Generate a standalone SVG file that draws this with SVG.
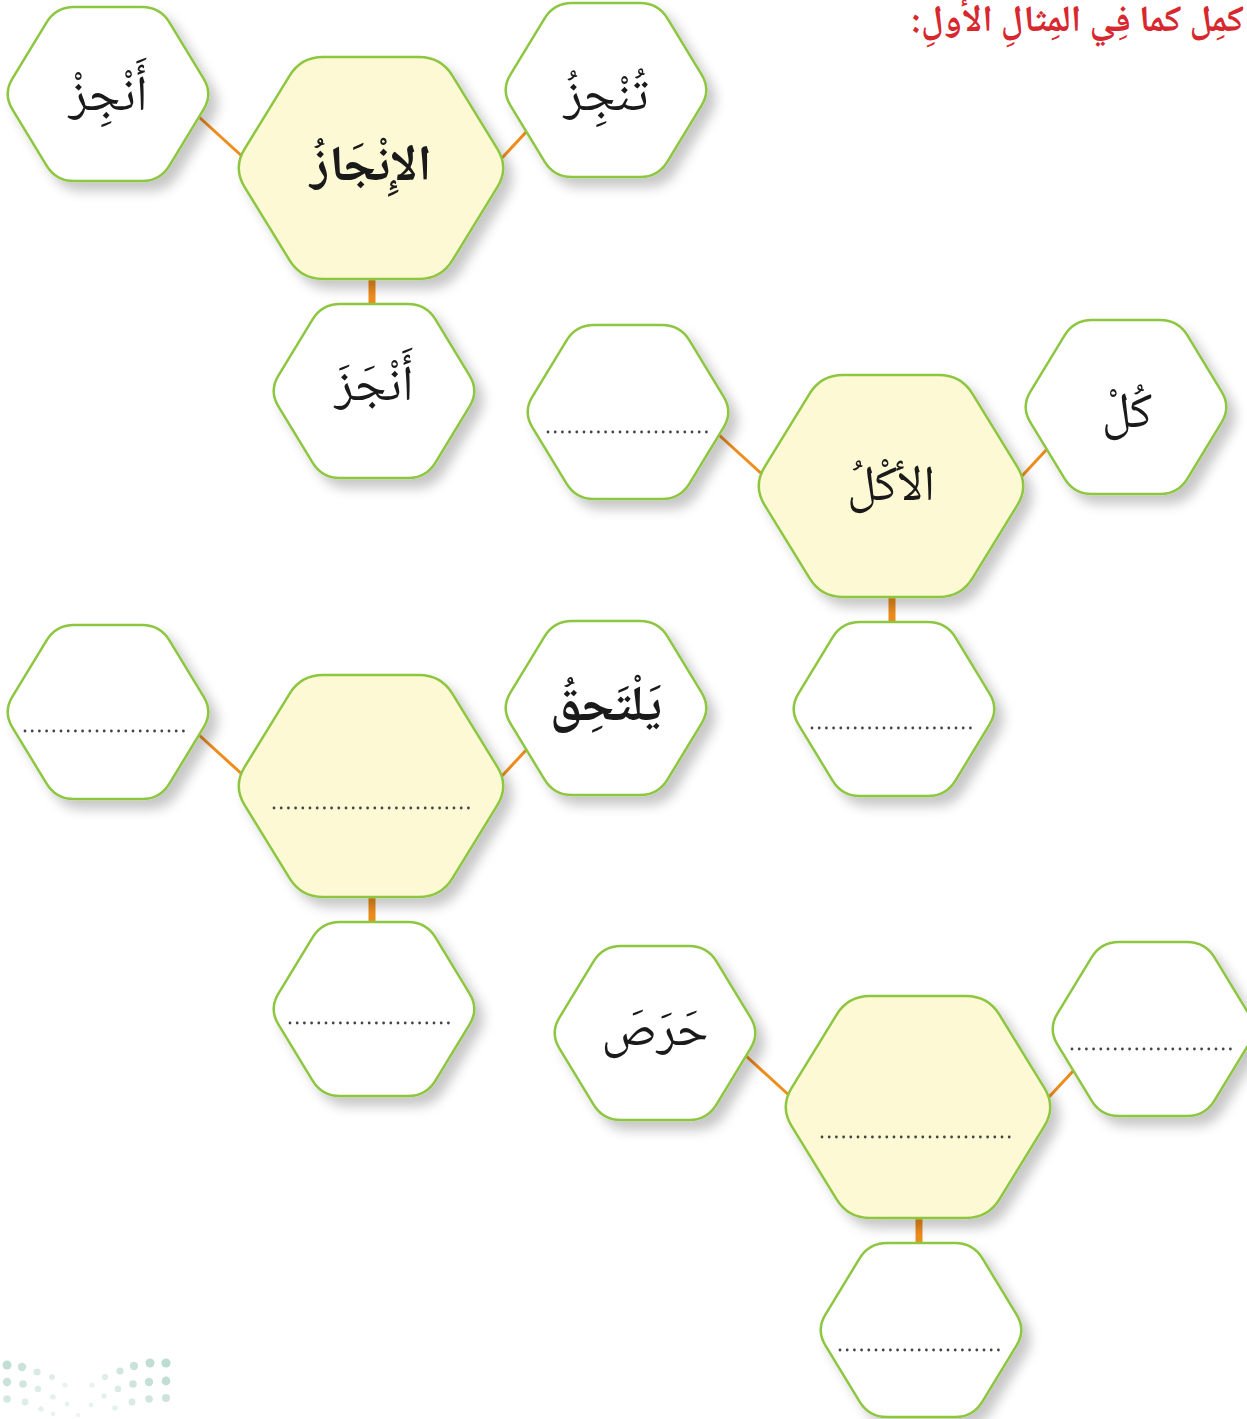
<svg xmlns="http://www.w3.org/2000/svg" xmlns:xlink="http://www.w3.org/1999/xlink" width="1247" height="1419" viewBox="0 0 1247 1419">
<style>
.hexS{fill:#ffffff;stroke:#8dc63f;stroke-width:2.5}
.hexL{fill:#fdf9d5;stroke:#8dc63f;stroke-width:2.5}
.conn{stroke:#ee8d1c;stroke-width:3;fill:none}
.connV{stroke:#ee8d1c;stroke-width:7;fill:none}
.dots{stroke:#444444;stroke-width:2.8;stroke-linecap:round;stroke-dasharray:0 7.2;fill:none}
.ar{font-family:"Noto Naskh Arabic","Noto Sans Arabic","DejaVu Sans",sans-serif;font-size:50px;fill:#1a1a1a;text-anchor:middle}
.b{font-weight:bold}
.title{font-family:"Noto Naskh Arabic","Noto Sans Arabic","DejaVu Sans",sans-serif;font-size:37px;font-weight:bold;fill:#d7282f;text-anchor:start}
.logo circle{fill:#9fcbbd}
</style>
<defs>
<filter id="sh" x="-20%" y="-20%" width="150%" height="150%">
<feDropShadow dx="8" dy="9" stdDeviation="6" flood-color="#000000" flood-opacity="0.22"/>
</filter>
<path id="hs" d="M -95.6,15.4 Q -105,0 -95.6,-15.4 L -61.4,-71.6 Q -52,-87 -34,-87 L 34,-87 Q 52,-87 61.4,-71.6 L 95.6,-15.4 Q 105,0 95.6,15.4 L 61.4,71.6 Q 52,87 34,87 L -34,87 Q -52,87 -61.4,71.6 Z"/>
<path id="hl" d="M -126.5,18.8 Q -138,0 -126.5,-18.8 L -81.5,-92.2 Q -70,-111 -48,-111 L 48,-111 Q 70,-111 81.5,-92.2 L 126.5,-18.8 Q 138,0 126.5,18.8 L 81.5,92.2 Q 70,111 48,111 L -48,111 Q -70,111 -81.5,92.2 Z"/>
</defs>
<rect width="1247" height="1419" fill="#ffffff"/>
<text class="title" x="1244" y="31" direction="rtl">كمِل كما فِي المِثالِ الأولِ:</text>

<g id="connectors">
<line class="conn" x1="199" y1="117" x2="244" y2="158"/>
<line class="conn" x1="502" y1="158" x2="528" y2="130"/>
<line class="connV" x1="372" y1="276" x2="372" y2="306"/>
<line class="conn" x1="719" y1="435" x2="764" y2="476"/>
<line class="conn" x1="1022" y1="476" x2="1048" y2="448"/>
<line class="connV" x1="892" y1="594" x2="892" y2="624"/>
<line class="conn" x1="199" y1="735" x2="244" y2="776"/>
<line class="conn" x1="502" y1="776" x2="528" y2="748"/>
<line class="connV" x1="372" y1="894" x2="372" y2="924"/>
<line class="conn" x1="746" y1="1056" x2="791" y2="1097"/>
<line class="conn" x1="1049" y1="1097" x2="1075" y2="1069"/>
<line class="connV" x1="919" y1="1215" x2="919" y2="1245"/>
</g>

<g id="n1-center" transform="translate(371,168)"><use href="#hl" class="hexL" filter="url(#sh)"/><text class="ar b" x="0" y="12" font-size="52">الإِنْجَازُ</text></g>
<g id="n1-left" transform="translate(108,94)"><use href="#hs" class="hexS" filter="url(#sh)"/><text class="ar" x="0" y="16">أَنْجِزْ</text></g>
<g id="n1-right" transform="translate(606,90)"><use href="#hs" class="hexS" filter="url(#sh)"/><text class="ar" x="0" y="20">تُنْجِزُ</text></g>
<g id="n1-bottom" transform="translate(374,391)"><use href="#hs" class="hexS" filter="url(#sh)"/><text class="ar" x="0" y="9">أَنْجَزَ</text></g>

<g id="n2-center" transform="translate(891,486)"><use href="#hl" class="hexL" filter="url(#sh)"/><text class="ar" x="0" y="14">الأكْلُ</text></g>
<g id="n2-left" transform="translate(628,412)"><use href="#hs" class="hexS" filter="url(#sh)"/><line class="dots" x1="-80" y1="20" x2="83" y2="20"/></g>
<g id="n2-right" transform="translate(1126,407)"><use href="#hs" class="hexS" filter="url(#sh)"/><text class="ar" x="1" y="20">كُلْ</text></g>
<g id="n2-bottom" transform="translate(894,709)"><use href="#hs" class="hexS" filter="url(#sh)"/><line class="dots" x1="-82" y1="19" x2="81" y2="19"/></g>

<g id="n3-center" transform="translate(371,786)"><use href="#hl" class="hexL" filter="url(#sh)"/><line class="dots" x1="-97" y1="22" x2="98" y2="22"/></g>
<g id="n3-left" transform="translate(108,712)"><use href="#hs" class="hexS" filter="url(#sh)"/><line class="dots" x1="-83" y1="19" x2="81" y2="19"/></g>
<g id="n3-right" transform="translate(606,708)"><use href="#hs" class="hexS" filter="url(#sh)"/><text class="ar b" x="0" y="12" font-size="48">يَلْتَحِقُ</text></g>
<g id="n3-bottom" transform="translate(374,1009)"><use href="#hs" class="hexS" filter="url(#sh)"/><line class="dots" x1="-84" y1="14" x2="79" y2="14"/></g>

<g id="n4-center" transform="translate(918,1107)"><use href="#hl" class="hexL" filter="url(#sh)"/><line class="dots" x1="-96" y1="30" x2="98" y2="30"/></g>
<g id="n4-left" transform="translate(655,1033)"><use href="#hs" class="hexS" filter="url(#sh)"/><text class="ar" x="0" y="12">حَرَصَ</text></g>
<g id="n4-right" transform="translate(1153,1029)"><use href="#hs" class="hexS" filter="url(#sh)"/><line class="dots" x1="-81" y1="20" x2="84" y2="20"/></g>
<g id="n4-bottom" transform="translate(921,1330)"><use href="#hs" class="hexS" filter="url(#sh)"/><line class="dots" x1="-81" y1="20" x2="83" y2="20"/></g>

<g class="logo" opacity="0.8">
<circle cx="7" cy="1365" r="4.5" opacity="0.8"/><circle cx="22" cy="1367" r="4.2" opacity="0.7"/><circle cx="37" cy="1372" r="3.6" opacity="0.5"/><circle cx="52" cy="1377" r="3" opacity="0.4"/><circle cx="65" cy="1385" r="2.6" opacity="0.3"/>
<circle cx="92" cy="1385" r="2.6" opacity="0.3"/><circle cx="105" cy="1377" r="3" opacity="0.45"/><circle cx="120" cy="1371" r="3.6" opacity="0.6"/><circle cx="134" cy="1366" r="4.2" opacity="0.7"/><circle cx="150" cy="1363" r="4.5" opacity="0.8"/><circle cx="166" cy="1363" r="4.6" opacity="0.85"/>
<circle cx="7" cy="1382" r="4.2" opacity="0.7"/><circle cx="23" cy="1384" r="3.8" opacity="0.6"/><circle cx="38" cy="1389" r="3.2" opacity="0.45"/><circle cx="53" cy="1397" r="2.8" opacity="0.35"/><circle cx="67" cy="1404" r="2.4" opacity="0.3"/><circle cx="78" cy="1415" r="2.2" opacity="0.25"/>
<circle cx="91" cy="1405" r="2.4" opacity="0.3"/><circle cx="104" cy="1396" r="2.8" opacity="0.35"/><circle cx="118" cy="1389" r="3.2" opacity="0.5"/><circle cx="133" cy="1384" r="3.8" opacity="0.65"/><circle cx="149" cy="1382" r="4.2" opacity="0.75"/><circle cx="166" cy="1381" r="4.4" opacity="0.8"/>
<circle cx="7" cy="1399" r="3.8" opacity="0.55"/><circle cx="25" cy="1402" r="3.4" opacity="0.45"/><circle cx="41" cy="1409" r="2.8" opacity="0.35"/><circle cx="53" cy="1414" r="2.4" opacity="0.3"/>
<circle cx="115" cy="1408" r="2.8" opacity="0.35"/><circle cx="132" cy="1402" r="3.4" opacity="0.5"/><circle cx="149" cy="1399" r="3.8" opacity="0.6"/><circle cx="166" cy="1398" r="4" opacity="0.65"/>
</g>
</svg>
